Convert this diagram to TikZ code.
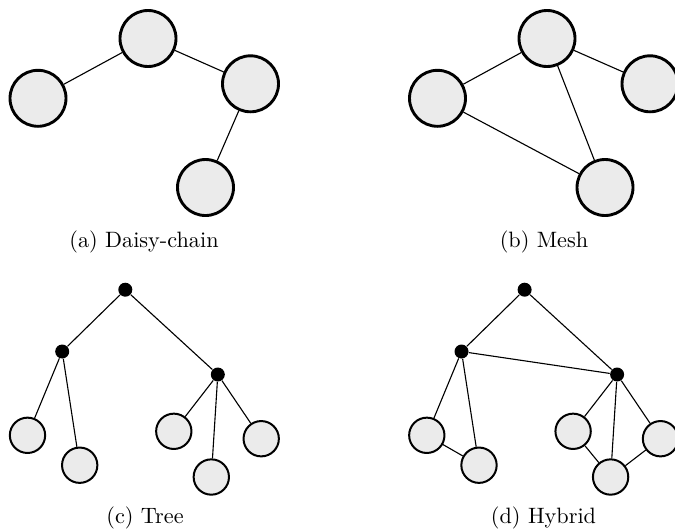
\documentclass[tikz,border=0pt]{standalone}
\begin{document}
\begin{tikzpicture}[x=0.45pt,y=-0.45pt,
  bignode/.style={circle,draw=black,line width=1.3pt,fill=nodegray,inner sep=0pt,minimum size=25.2pt},
  leafnode/.style={circle,draw=black,line width=0.9pt,fill=nodegray,inner sep=0pt,minimum size=15.9pt},
  hubnode/.style={circle,fill=black,inner sep=0pt,minimum size=6.3pt},
  link/.style={line width=0.5pt},
  caption/.style={anchor=base,inner sep=0pt}]
\definecolor{nodegray}{HTML}{EBEBEB}
\useasboundingbox (0,0) rectangle (675,530);
\clip (0,0) rectangle (675,530);

% (a) daisy-chain
\node[bignode] (a1) at (38,98.3) {};
\node[bignode] (a2) at (148,38.5) {};
\node[bignode] (a3) at (250.5,83.8) {};
\node[bignode] (a4) at (205.5,187.5) {};
\draw[link] (a1) -- (a2) (a2) -- (a3) (a3) -- (a4);
\node[caption] (capa) at (144,247) {(a) Daisy-chain};

% (b) mesh
\node[bignode] (b1) at (437.5,98.3) {};
\node[bignode] (b2) at (547,38.5) {};
\node[bignode] (b3) at (650,83.8) {};
\node[bignode] (b4) at (605,187.5) {};
\draw[link] (b1) -- (b2) (b2) -- (b3) (b1) -- (b4) (b2) -- (b4);
\node[caption] (capb) at (544,247) {(b) Mesh};

% (c) tree
\node[hubnode] (c0) at (125.3,289.7) {};
\node[hubnode] (cl) at (62.2,351.5) {};
\node[hubnode] (cr) at (217.8,374.5) {};
\node[leafnode] (c1) at (27.5,435.3) {};
\node[leafnode] (c2) at (79.7,465.2) {};
\node[leafnode] (c3) at (173.8,431.3) {};
\node[leafnode] (c4) at (211.3,477) {};
\node[leafnode] (c5) at (261.2,438.7) {};
\draw[link] (c0) -- (cl) (c0) -- (cr)
  (cl) -- (c1) (cl) -- (c2)
  (cr) -- (c3) (cr) -- (c4) (cr) -- (c5);
\node[caption] (capc) at (145,523) {(c) Tree};

% (d) hybrid
\begin{scope}[xshift=399.3*0.45pt]
\node[hubnode] (d0) at (125.3,289.7) {};
\node[hubnode] (dl) at (62.2,351.5) {};
\node[hubnode] (dr) at (217.8,374.5) {};
\node[leafnode] (d1) at (27.5,435.3) {};
\node[leafnode] (d2) at (79.7,465.2) {};
\node[leafnode] (d3) at (173.8,431.3) {};
\node[leafnode] (d4) at (211.3,477) {};
\node[leafnode] (d5) at (261.2,438.7) {};
\draw[link] (d0) -- (dl) (d0) -- (dr) (dl) -- (dr)
  (dl) -- (d1) (dl) -- (d2) (d1) -- (d2)
  (dr) -- (d3) (dr) -- (d4) (dr) -- (d5)
  (d3) -- (d4) (d4) -- (d5);
\node[caption] (capd) at (144.2,523) {(d) Hybrid};
\end{scope}
\end{tikzpicture}
\end{document}
